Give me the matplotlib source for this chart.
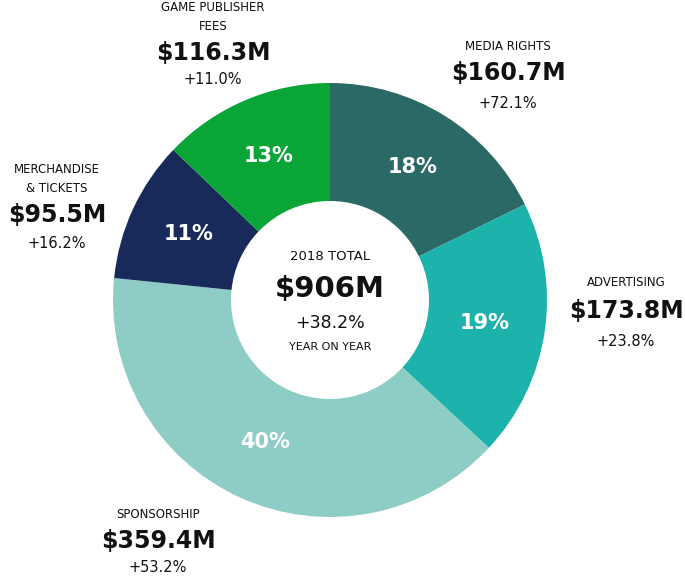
import matplotlib.pyplot as plt

segments = ["MEDIA RIGHTS", "ADVERTISING", "SPONSORSHIP", "MERCHANDISE\n& TICKETS", "GAME PUBLISHER\nFEES"]
revenue = [160.7, 173.8, 359.4, 95.5, 116.3]
growth = ["+72.1%", "+23.8%", "+53.2%", "+16.2%", "+11.0%"]
colors = ["#2a6966", "#1db3ac", "#8dcdc5", "#172a5a", "#0aa537"]

total = "$906M"
total_growth = "+38.2%"

plt.rcParams["font.family"] = ["DejaVu Sans"]

fig = plt.figure(figsize=(6.85, 5.77), dpi=100)
ax = fig.add_axes([0, 0, 1, 1])
ax.set_xlim(0, 685)
ax.set_ylim(0, 577)
ax.set_aspect("equal")
ax.axis("off")

cx, cy, r = 330, 577 - 300, 217

wedges, texts, autotexts = ax.pie(
    revenue, colors=colors, startangle=90, counterclock=False,
    center=(cx, cy), radius=r, autopct="%.0f%%", pctdistance=0.72,
    wedgeprops=dict(width=r - 99, linewidth=0),
    textprops=dict(color="white", fontsize=15, fontweight="bold"),
)
ax.set_xlim(0, 685)
ax.set_ylim(0, 577)

# label blocks: (x, y of title, y of amount, y of growth) in pixel rows from top
label_pos = [
    (508, 46, 73, 103),
    (626, 283, 311, 341),
    (158, 515, 541, 568),
    (57, 179, 215, 243),
    (213, 17, 53, 80),
]

for name, val, g, (x, yt, ya, yg) in zip(segments, revenue, growth, label_pos):
    ax.text(x, 577 - yt, name, ha="center", va="center", fontsize=8.5,
            linespacing=1.6, color="#111111")
    ax.text(x, 577 - ya, f"${val}M", ha="center", va="center", fontsize=17,
            fontweight="bold", color="#111111")
    ax.text(x, 577 - yg, g, ha="center", va="center", fontsize=10.5,
            color="#111111")

ax.text(cx, 577 - 256, "2018 TOTAL", ha="center", va="center", fontsize=9.5, color="#111111")
ax.text(cx, 577 - 289, total, ha="center", va="center", fontsize=21,
        fontweight="bold", color="#111111")
ax.text(cx, 577 - 323, total_growth, ha="center", va="center", fontsize=12.5, color="#111111")
ax.text(cx, 577 - 347, "YEAR ON YEAR", ha="center", va="center", fontsize=8, color="#111111")

fig.savefig("out.png", dpi=100)
